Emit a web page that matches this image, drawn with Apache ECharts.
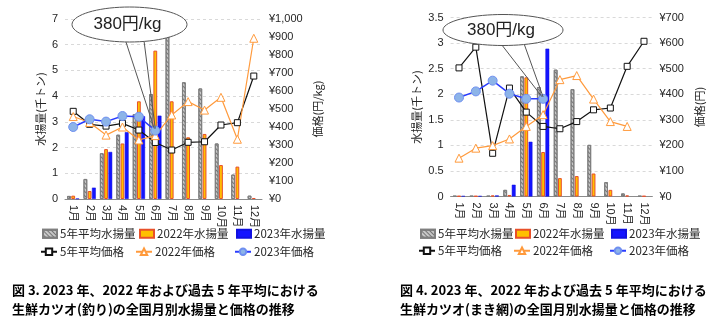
<!DOCTYPE html>
<html><head><meta charset="utf-8">
<script src="https://cdn.jsdelivr.net/npm/echarts@6/dist/echarts.min.js"></script>
<style>html,body{margin:0;padding:0;background:#fff}#c{width:723px;height:333px}</style>
</head><body><div id="c"></div>
<script>
// ---- data ----
const months = ['1月','2月','3月','4月','5月','6月','7月','8月','9月','10月','11月','12月'];
const seriesNames = ['5年平均水揚量','2022年水揚量','2023年水揚量','5年平均価格','2022年価格','2023年価格'];
// Fig.3 pole-and-line (千トン, 円/kg)
const c1AvgCatch  = [0.12, 0.78, 1.78, 2.50, 3.30, 4.08, 6.38, 4.54, 4.30, 2.16, 0.95, 0.13];
const c1Catch2022 = [0.13, 0.31, 1.94, 2.16, 3.80, 5.77, 3.80, 2.40, 2.53, 1.32, 1.26, 0.04];
const c1Catch2023 = [0.02, 0.44, 1.83, 2.60, 3.22, 3.24];
const c1AvgPrice  = [487, 415, 405, 420, 383, 314, 272, 315, 318, 411, 424, 683];
const c1Price2022 = [458, 425, 355, 400, 328, 352, 467, 541, 494, 565, 332, 893];
const c1Price2023 = [400, 443, 430, 461, 457, 380];
// Fig.4 purse seine (千トン, 円)
const c2AvgCatch  = [0.01, 0.01, 0.01, 0.13, 2.35, 2.14, 2.48, 2.10, 1.01, 0.28, 0.06, 0.01];
const c2Catch2022 = [0.01, 0.01, 0.02, 0.03, 2.33, 0.87, 0.36, 0.40, 0.45, 0.13, 0.02, 0.01];
const c2Catch2023 = [0.01, 0.01, 0.02, 0.23, 1.07, 2.89];
const c2AvgPrice  = [503, 584, 169, 424, 330, 274, 265, 293, 339, 346, 509, 607];
const c2Price2022 = [150, 189, 199, 225, 274, 320, 457, 473, 381, 293, 274, null];
const c2Price2023 = [387, 411, 453, 402, 382, 382];
const calloutText = '380円/kg';
const captions1 = ['図 3. 2023 年、2022 年および過去 5 年平均における', '生鮮カツオ(釣り)の全国月別水揚量と価格の推移'];
const captions2 = ['図 4. 2023 年、2022 年および過去 5 年平均における', '生鮮カツオ(まき網)の全国月別水揚量と価格の推移'];

// ---- styles ----
const FONT = "'Liberation Sans','Noto Sans CJK JP',sans-serif";
const CJK = "'Noto Sans CJK JP',sans-serif";
const TXT = '#262626';
const grayStyle = {color:'#c8c8c8', borderColor:'#7f7f7f', borderWidth:1,
  decal:{symbol:'rect', symbolSize:1, dashArrayX:[1,0], dashArrayY:[1,2], rotation:Math.PI/4, color:'rgba(90,90,90,0.75)'}};
const orangeStyle = {color:'#ffc000', borderColor:'#e8502a', borderWidth:1};
const blueStyle = {color:'#1414ff', borderColor:'#1010e0', borderWidth:0.5};

function bars(xi, yi, a, b, c){
  const common = {type:'bar', xAxisIndex:xi, yAxisIndex:yi, barWidth:3.8, barGap:'12%'};
  return [
    Object.assign({name:seriesNames[0], data:a, itemStyle:grayStyle}, common),
    Object.assign({name:seriesNames[1], data:b, itemStyle:orangeStyle}, common),
    Object.assign({name:seriesNames[2], data:c, itemStyle:blueStyle}, common)
  ];
}
function lines(xi, yi, a, b, c){
  const common = {type:'line', xAxisIndex:xi, yAxisIndex:yi, z:5};
  return [
    Object.assign({name:seriesNames[3], data:a, symbol:'rect', symbolSize:6,
      lineStyle:{color:'#111', width:1.2}, itemStyle:{color:'#fff', borderColor:'#111', borderWidth:1}}, common),
    Object.assign({name:seriesNames[4], data:b, symbol:'triangle', symbolSize:8,
      lineStyle:{color:'#ff9a3c', width:1.2}, itemStyle:{color:'#fff', borderColor:'#ff9a3c', borderWidth:1}}, common),
    Object.assign({name:seriesNames[5], data:c, symbol:'circle', symbolSize:9,
      lineStyle:{color:'#2a3cff', width:1.5}, itemStyle:{color:'#8db4e8', borderColor:'#6f8ff0', borderWidth:1}}, common)
  ];
}
function xAx(gi){
  return {type:'category', gridIndex:gi, data:months, axisTick:{show:false},
    axisLine:{lineStyle:{color:'#8c8c8c', width:1}},
    axisLabel:{rotate:-90, margin:6, fontSize:11, color:TXT, fontFamily:FONT, interval:0}};
}
function yLeft(gi, max, iv, gap){
  return {type:'value', gridIndex:gi, min:0, max:max, interval:iv, position:'left',
    name:'水揚量(千トン)', nameLocation:'middle', nameRotate:90, nameGap:gap,
    nameTextStyle:{fontSize:11, color:TXT, fontFamily:CJK},
    axisLine:{show:false}, axisTick:{show:false},
    axisLabel:{fontSize:11, color:TXT, fontFamily:FONT, margin:7},
    splitLine:{lineStyle:{type:[3,3], color:'#d9d9d9'}}};
}
function yRight(gi, max, name, gap){
  return {type:'value', gridIndex:gi, min:0, max:max, interval:100, position:'right',
    name:name, nameLocation:'middle', nameRotate:90, nameGap:gap,
    nameTextStyle:{fontSize:11, color:TXT, fontFamily:CJK},
    axisLine:{show:false}, axisTick:{show:false}, splitLine:{show:false},
    axisLabel:{fontSize:11, color:TXT, fontFamily:FONT, margin:7,
      formatter:v => '¥' + v.toLocaleString('en-US')}};
}
function leg(name, left, top, isBar){
  return {data:[isBar ? {name:name, icon:'rect'} : {name:name}], left:left, top:top, padding:0,
    itemWidth: isBar ? 14 : 16, itemHeight: 8, itemGap:4, selectedMode:false,
    textStyle:{fontSize:11.5, color:TXT, fontFamily:CJK, padding:[0,0,0,-2]}};
}

const chart = echarts.init(document.getElementById('c'), null, {renderer:'canvas'});
const option = {
  animation:false,
  grid:[
    {left:65, right:461, top:19, bottom:134},
    {left:450.6, right:70.6, top:17.5, bottom:136.5}
  ],
  xAxis:[xAx(0), xAx(1)],
  yAxis:[yLeft(0, 7, 1, 19), yRight(0, 1000, '価格(円/kg)', 50), yLeft(1, 3.5, 0.5, 28), yRight(1, 700, '価格(円)', 42)],
  legend:[
    leg(seriesNames[0], 42, 228, true), leg(seriesNames[1], 139, 228, true), leg(seriesNames[2], 236, 228, true),
    leg(seriesNames[3], 40, 246, false), leg(seriesNames[4], 135, 246, false), leg(seriesNames[5], 234, 246, false),
    leg(seriesNames[0], 420, 228, true), leg(seriesNames[1], 515, 228, true), leg(seriesNames[2], 611, 228, true),
    leg(seriesNames[3], 418, 245, false), leg(seriesNames[4], 513, 245, false), leg(seriesNames[5], 609, 245, false)
  ],
  series:[].concat(
    bars(0, 0, c1AvgCatch, c1Catch2022, c1Catch2023),
    lines(0, 1, c1AvgPrice, c1Price2022, c1Price2023),
    bars(1, 2, c2AvgCatch, c2Catch2022, c2Catch2023),
    lines(1, 3, c2AvgPrice, c2Price2022, c2Price2023)
  )
};
chart.setOption(option);

// callouts pointing at the June 2023 price points
function ellipsePts(cx, cy, rx, ry){
  const p = [];
  for (let i = 0; i < 72; i++){ const t = i / 72 * Math.PI * 2; p.push([cx + rx * Math.cos(t), cy + ry * Math.sin(t)]); }
  return p;
}
function callout(seriesIndex, value, cx, cy, rx, ry, b1, b2){
  const tip = chart.convertToPixel({seriesIndex:seriesIndex}, [months[5], value]);
  return [
    {type:'polyline', z:100, shape:{points:[b1, [tip[0]-1, tip[1]-2]]}, style:{stroke:'#555', lineWidth:1, fill:null}},
    {type:'polyline', z:100, shape:{points:[b2, [tip[0], tip[1]-2]]}, style:{stroke:'#555', lineWidth:1, fill:null}},
    {type:'polygon', z:101, shape:{points:ellipsePts(cx, cy, rx, ry)}, style:{fill:'#fff', stroke:'#555', lineWidth:1}},
    {type:'text', z:102, x:cx - 2, y:cy, style:{text:calloutText, font:"17px 'Liberation Sans','Noto Sans CJK JP',sans-serif", fill:'#222', align:'center', verticalAlign:'middle'}}
  ];
}
function caption(lines, x){
  return lines.map((t, i) => ({type:'text', left:x, top:284 + i * 19, z:50,
    style:{text:t, font:"bold 13px 'Noto Sans CJK JP',sans-serif", fill:'#000'}}));
}
chart.setOption({graphic:[].concat(
  callout(5, c1Price2023[5], 129.5, 24.5, 57.5, 17.5, [124, 36], [143, 33]),
  callout(11, c2Price2023[5], 503, 30, 60, 15.5, [498, 40], [522, 38]),
  caption(captions1, 12),
  caption(captions2, 400)
)});
</script></body></html>
